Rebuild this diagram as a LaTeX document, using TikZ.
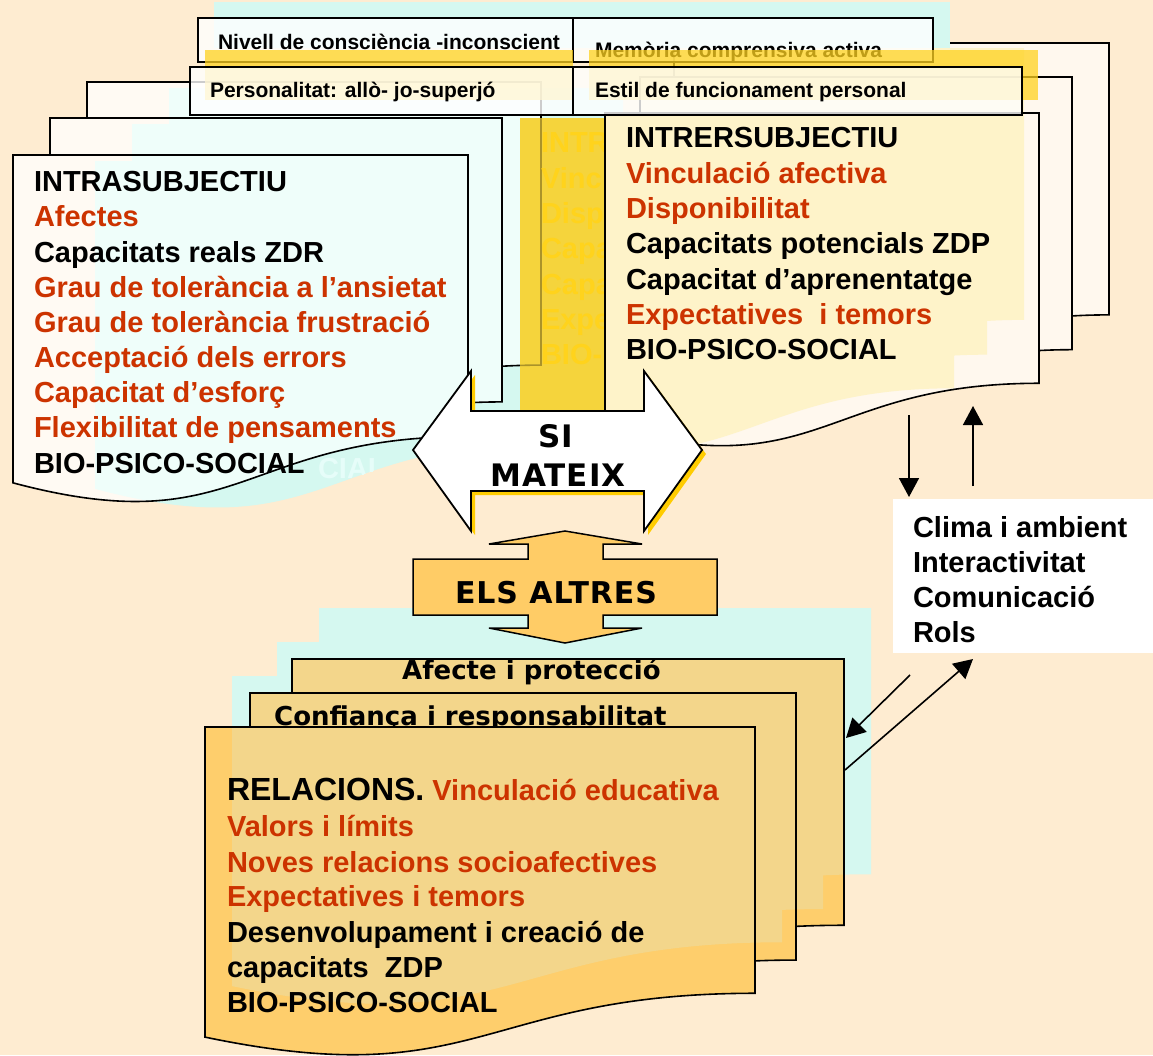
\documentclass[tikz,border=0pt]{standalone}
\usepackage{fontspec}
\setmainfont{Liberation Sans}
\newfontfamily\vfont{DejaVu Sans}
\newfontfamily\vfontsp[LetterSpace=3]{DejaVu Sans}
\usetikzlibrary{arrows.meta}
\definecolor{bgc}{HTML}{FEECD1}
\definecolor{cyansh}{HTML}{D5F8F0}
\definecolor{lbase}{HTML}{FFFAF3}
\definecolor{ltint}{HTML}{EFFEFA}
\definecolor{ghostc}{HTML}{E6FDF9}
\definecolor{goldband}{HTML}{F5D43C}
\definecolor{ghostgold}{HTML}{FFD31C}
\definecolor{rbase}{HTML}{FFF8EE}
\definecolor{rtint}{HTML}{FEF3C9}
\definecolor{ybandc}{HTML}{FFD21F}
\definecolor{pbase}{HTML}{FECE6C}
\definecolor{ptint}{HTML}{F3D68B}
\definecolor{elsfill}{HTML}{FFCC66}
\definecolor{goldsh}{HTML}{FFCC00}
\definecolor{redt}{HTML}{CC3300}
% document shape: x y w h
\newcommand\docp[4]{(#1,#2) -- ({#1+#3},#2) -- ({#1+#3},{#2+0.802*#4}) .. controls ({#1+0.5*#3},{#2+0.802*#4}) and ({#1+0.5*#3},{#2+1.107*#4}) .. (#1,{#2+0.934*#4}) -- cycle}
\def\Lsh{\docp{169}{88}{454}{353} \docp{132}{124}{452}{354} \docp{95}{161}{455}{351}}
\def\Rsh{\docp{589}{48}{435}{339} \docp{555}{82}{432}{340} \docp{520}{118}{434}{337}}
\def\Psh{\docp{319}{608}{552}{332} \docp{277}{642}{546}{333} \docp{232}{676}{550}{332}}
\newcommand\pg[7]{%
  \fill[#5] \docp{#1}{#2}{#3}{#4};
  \begin{scope}\clip \docp{#1}{#2}{#3}{#4}; \fill[#6] #7; \end{scope}}
\newcommand\pgline[4]{\draw[pline] \docp{#1}{#2}{#3}{#4};}
\def\SIarrow{(413,450) -- (471,371) -- (471,411) -- (644,411) -- (644,371) -- (702,450) -- (644,531) -- (644,491) -- (471,491) -- (471,531) -- cycle}
\begin{document}
\begin{tikzpicture}[x=1pt,y=-1pt,
  lst/.style={anchor=base west,inner sep=0pt,outer sep=0pt,font=\fontsize{29}{35}\selectfont\bfseries},
  tbl/.style={anchor=base west,inner sep=0pt,outer sep=0pt,font=\fontsize{21}{25}\selectfont\bfseries},
  pline/.style={draw=black,line width=1.6pt,line join=miter},
  cell/.style={draw=black,line width=1.8pt,fill=white,fill opacity=0.8},
  arr/.style={line width=1.6pt,-{Triangle[length=19pt,width=20pt]}}]
\useasboundingbox (0,0) rectangle (1153,1055);
\fill[bgc] (0,0) rectangle (1153,1055);

% ---------- left stack (intrasubjectiu) ----------
\fill[cyansh] \Lsh;
\begin{scope}
  \clip \docp{95}{161}{455}{351};
  \node[lst,text=ghostc] (gls) at (318,478) {CIAL};
\end{scope}
\pg{87}{82}{454}{353}{lbase}{ltint}{\Lsh}
\pgline{87}{82}{454}{353}
\pg{50}{118}{452}{354}{lbase}{ltint}{\Lsh}
\pgline{50}{118}{452}{354}
\pg{13}{155}{455}{351}{lbase}{ltint}{\Lsh}
\pgline{13}{155}{455}{351}
\node[lst] (la) at (34,191) {INTRASUBJECTIU};
\node[lst,text=redt] (lb) at (34,226) {Afectes};
\node[lst] (lc) at (34,262) {Capacitats reals ZDR};
\node[lst,text=redt] (ld) at (34,297) {Grau de tolerància a l’ansietat};
\node[lst,text=redt] (le) at (34,332) {Grau de tolerància frustració};
\node[lst,text=redt] (lf) at (34,367) {Acceptació dels errors};
\node[lst,text=redt] (lg) at (34,402) {Capacitat d’esforç};
\node[lst,text=redt] (lh) at (34,437) {Flexibilitat de pensaments};
\node[lst] (li) at (34,473) {BIO-PSICO-SOCIAL};

% ---------- gold shadow band ----------
\fill[goldband] \docp{520}{118}{434}{337};
\begin{scope}
  \clip (520,80) rectangle (605,440);
  \draw[line width=1.6pt,draw=black,draw opacity=0.3] \docp{87}{82}{454}{353};
  \node[lst,text=ghostgold] (g1) at (541,152) {INTR};
  \node[lst,text=ghostgold] (g2) at (541,188) {Vinc};
  \node[lst,text=ghostgold] (g3) at (541,223) {Disp};
  \node[lst,text=ghostgold] (g4) at (541,258) {Capa};
  \node[lst,text=ghostgold] (g5) at (541,294) {Capa};
  \node[lst,text=ghostgold] (g6) at (541,329) {Expe};
  \node[lst,text=ghostgold] (g7) at (541,364) {BIO-};
\end{scope}

% ---------- right stack (intersubjectiu) ----------
\pg{674}{43}{435}{339}{rbase}{rtint}{\Rsh}
\pgline{674}{43}{435}{339}
\pg{640}{77}{432}{340}{rbase}{rtint}{\Rsh}
\pgline{640}{77}{432}{340}
\pg{605}{113}{434}{337}{rbase}{rtint}{\Rsh}
\pgline{605}{113}{434}{337}
\node[lst] (ra) at (626,147) {INTRERSUBJECTIU};
\node[lst,text=redt] (rb) at (626,183) {Vinculació afectiva};
\node[lst,text=redt] (rc) at (626,218) {Disponibilitat};
\node[lst] (rd) at (626,253) {Capacitats potencials ZDP};
\node[lst] (re) at (626,289) {Capacitat d’aprenentatge};
\node[lst,text=redt] (rf) at (626,324) {Expectatives\ \ i temors};
\node[lst] (rg) at (626,359) {BIO-PSICO-SOCIAL};

% ---------- top table ----------
\fill[cyansh] (214,2) rectangle (950,48);
\path[cell] (198,18) rectangle (573,62);
\path[cell] (573,18) rectangle (933,62);
\node[tbl] (t1) at (218,49) {Nivell de consciència -inconscient};
\node[tbl] (t2) at (595,57) {Memòria comprensiva activa};
\fill[fill=ybandc,fill opacity=0.75] (205,50) rectangle (573,100);
\fill[fill=ybandc,fill opacity=0.75] (589,50) rectangle (1038,100);
\path[cell] (190,67) rectangle (573,115);
\path[cell] (573,67) rectangle (1022,115);
\node[tbl] (t3) at (210,97) {Personalitat: allò- jo-superjó};
\node[tbl] (t4) at (595,97) {Estil de funcionament personal};

% ---------- bottom stack (relacions) ----------
\fill[cyansh] \Psh;
\pg{292}{659}{552}{332}{pbase}{ptint}{\Psh}
\pgline{292}{659}{552}{332}
\node[anchor=base west,inner sep=0pt,font=\fontsize{26}{31}\selectfont\vfont\bfseries] (p3t) at (402,679) {Afecte i protecció};
\pg{250}{693}{546}{333}{pbase}{ptint}{\Psh}
\pgline{250}{693}{546}{333}
\node[anchor=base west,inner sep=0pt,font=\fontsize{26}{31}\selectfont\vfont\bfseries] (p2t) at (274,725) {Confiança i responsabilitat};
\pg{205}{727}{550}{332}{pbase}{ptint}{\Psh}
\pgline{205}{727}{550}{332}
\node[lst] (b1) at (227,800) {{\fontsize{32}{38}\selectfont RELACIONS.} {\color{redt}Vinculació educativa}};
\node[lst,text=redt] (b2) at (227,836) {Valors i límits};
\node[lst,text=redt] (b3) at (227,872) {Noves relacions socioafectives};
\node[lst,text=redt] (b4) at (227,906) {Expectatives i temors};
\node[lst] (b5) at (227,942) {Desenvolupament i creació de};
\node[lst] (b6) at (227,977) {capacitats\ \ ZDP};
\node[lst] (b7) at (227,1012) {BIO-PSICO-SOCIAL};

% ---------- ELS ALTRES up-down arrow ----------
\draw[fill=elsfill,line width=1.5pt,line join=miter] (565,531) -- (642,544) -- (603,544) -- (603,559) -- (717,559) -- (717,615) -- (603,615) -- (603,628) -- (642,628) -- (565,643) -- (489,628) -- (528,628) -- (528,615) -- (413,615) -- (413,559) -- (528,559) -- (528,544) -- (489,544) -- cycle;
\node[anchor=base,inner sep=0pt,font=\fontsize{30}{36}\selectfont\vfontsp\bfseries] (els) at (556,603) {ELS ALTRES};

% ---------- SI MATEIX double arrow ----------
\begin{scope}[shift={(4,4)}]
  \fill[goldsh] \SIarrow;
\end{scope}
\draw[fill=white,line width=1.8pt,line join=miter] \SIarrow;
\node[anchor=base,inner sep=0pt,font=\fontsize{31}{37}\selectfont\vfontsp\bfseries] (si) at (556,447) {SI};
\node[anchor=base,inner sep=0pt,font=\fontsize{31}{37}\selectfont\vfontsp\bfseries] (mx) at (558,486) {MATEIX};

% ---------- Clima box ----------
\fill[white] (893,499) rectangle (1153,653);
\node[lst] (c1) at (913,537) {Clima i ambient};
\node[lst] (c2) at (913,572) {Interactivitat};
\node[lst] (c3) at (913,607) {Comunicació};
\node[lst] (c4) at (913,642) {Rols};

% ---------- arrows ----------
\coordinate (dA) at (909,415); \coordinate (dB) at (909,497);
\coordinate (uA) at (973,486); \coordinate (uB) at (973,406);
\coordinate (gA) at (910,675); \coordinate (gB) at (846,738);
\coordinate (hA) at (845,770); \coordinate (hB) at (973,659);
\draw[arr] (dA) -- (dB);
\draw[arr] (uA) -- (uB);
\draw[arr] (gA) -- (gB);
\draw[arr] (hA) -- (hB);
\end{tikzpicture}
\end{document}
